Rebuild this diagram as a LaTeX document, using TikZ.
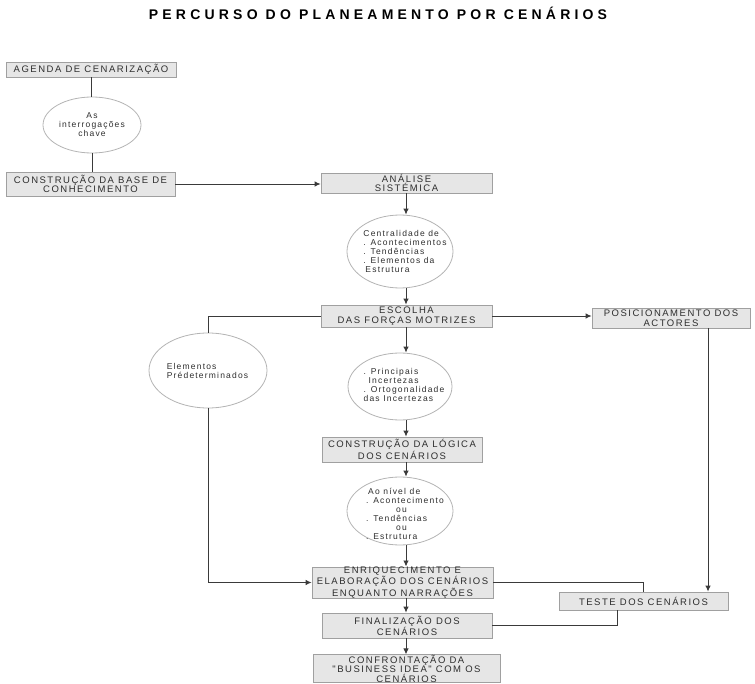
\documentclass[tikz,border=0pt]{standalone}
\usepackage{fontspec}
\setmainfont{Liberation Sans}
\newfontfamily\boxfam[LetterSpace=16]{Liberation Sans}
\newfontfamily\ellfam[LetterSpace=14]{Liberation Sans}
\newfontfamily\titlefam[LetterSpace=30]{Liberation Sans}
\usetikzlibrary{shapes.geometric,arrows.meta}
\definecolor{boxfill}{HTML}{E6E6E6}
\definecolor{boxline}{HTML}{A0A0A0}
\definecolor{ellline}{HTML}{B4B4B4}
\definecolor{txt}{HTML}{2E2E2E}
\definecolor{lncol}{HTML}{3A3A3A}
\tikzset{
  stagebox/.style={draw=boxline, fill=boxfill, line width=0.8pt, inner sep=0pt,
    align=center, text=txt, font=\boxfam\fontsize{9.5}{9.5}\selectfont},
  topic/.style={ellipse, draw=ellline, fill=white, line width=0.8pt, inner sep=0pt},
  topictext/.style={inner sep=0pt, text=txt, font=\ellfam\fontsize{8.5}{9}\selectfont},
  ln/.style={draw=lncol, line width=0.9pt},
  arr/.style={ln, -{Latex[length=6pt,width=5.5pt]}},
}
\begin{document}
\begin{tikzpicture}[x=1pt,y=-1pt]
\useasboundingbox (0,0) rectangle (755,684);

% title
\node[text=black, font=\titlefam\bfseries\fontsize{14}{16}\selectfont] (title) at (378,13.5) {PERCURSO DO PLANEAMENTO POR CENÁRIOS};

% guide columns for vertical connectors
\coordinate (spine) at (406,0);
\coordinate (tdrop) at (708,0);
\coordinate (trise) at (617,0);

% left column
\node[stagebox, minimum width=170pt, minimum height=15pt] (agenda) at (91,69.5) {AGENDA DE CENARIZAÇÃO};
\node[topic, minimum width=98pt, minimum height=56pt] (ell1) at (92,125) {};
\node[topictext, align=center] (ell1t) at (92,125) {As\\interrogações\\chave};
\node[stagebox, minimum width=169pt, minimum height=24pt] (cbase) at (90.5,184) {CONSTRUÇÃO DA BASE DE\\CONHECIMENTO};

% central column
\node[stagebox, minimum width=171pt, minimum height=20pt] (analise) at (406.5,183) {ANÁLISE\\SISTÉMICA};
\node[topic, minimum width=106pt, minimum height=73pt] (ell2) at (400,251.5) {};
\node[topictext, align=left] (ell2t) at (405,251.5) {Centralidade de\\. Acontecimentos\\. Tendências\\. Elementos da\\\hspace*{2pt}Estrutura};
\node[stagebox, minimum width=171pt, minimum height=22pt] (escolha) at (406.5,316) {ESCOLHA\\DAS FORÇAS MOTRIZES};
\node[topic, minimum width=104pt, minimum height=67pt] (ell3) at (400,386.5) {};
\node[topictext, align=left] (ell3t) at (404,385) {. Principais\\\hspace*{5pt}Incertezas\\. Ortogonalidade\\das Incertezas};
\node[stagebox, minimum width=160pt, minimum height=25pt] (logica) at (402,449.5) {CONSTRUÇÃO DA LÓGICA\\DOS CENÁRIOS};
\node[topic, minimum width=106pt, minimum height=68pt] (ell4) at (400,511) {};
\node[topictext, align=left] (ell4t) at (405,514) {\hspace*{2pt}Ao nível de\\. Acontecimento\\\hspace*{30pt}ou\\. Tendências\\\hspace*{30pt}ou\\. Estrutura};
\node[stagebox, minimum width=181pt, minimum height=31pt] (enriq) at (402.5,582.5) {ENRIQUECIMENTO E\\ELABORAÇÃO DOS CENÁRIOS\\ENQUANTO NARRAÇÕES};
\node[stagebox, minimum width=170pt, minimum height=25pt] (final) at (407,625.5) {FINALIZAÇÃO DOS\\CENÁRIOS};
\node[stagebox, minimum width=187pt, minimum height=27pt] (confr) at (406.5,668.5) {CONFRONTAÇÃO DA\\"BUSINESS IDEA" COM OS\\CENÁRIOS};

% side branches
\node[topic, minimum width=118pt, minimum height=75pt] (elem) at (208,370.5) {};
\node[topictext, align=left] (elemt) at (207.5,370.5) {Elementos\\Prédeterminados};
\node[stagebox, minimum width=158pt, minimum height=20pt] (posic) at (671,318) {POSICIONAMENTO DOS\\ACTORES};
\node[stagebox, minimum width=169pt, minimum height=18pt] (teste) at (643.5,601) {TESTE DOS CENÁRIOS};

% connectors: left column
\draw[ln] (agenda.south) -- (agenda.south |- ell1.north);
\draw[ln] (ell1.south) -- (ell1.south |- cbase.north);
\draw[arr] (cbase.east) -- (cbase.east -| analise.west);

% connectors: central spine
\draw[arr] (analise.south -| spine) -- (ell2.north -| spine);
\draw[arr] (ell2.south -| spine) -- (escolha.north -| spine);
\draw[arr] (escolha.south -| spine) -- (ell3.north -| spine);
\draw[arr] (ell3.south -| spine) -- (logica.north -| spine);
\draw[arr] (logica.south -| spine) -- (ell4.north -| spine);
\draw[arr] (ell4.south -| spine) -- (enriq.north -| spine);
\draw[arr] (enriq.south -| spine) -- (final.north -| spine);
\draw[arr] (final.south -| spine) -- (confr.north -| spine);

% connectors: branches
\draw[arr] (escolha.east) -- (escolha.east -| posic.west);
\draw[ln] (escolha.west) -| (elem.north);
\draw[arr] (elem.south) |- (enriq.west);
\draw[arr] (posic.south -| tdrop) -- (teste.north -| tdrop);
\draw[ln] (enriq.east) -| (teste.north);
\draw[ln] (final.east) -| (teste.south -| trise);
\end{tikzpicture}
\end{document}
